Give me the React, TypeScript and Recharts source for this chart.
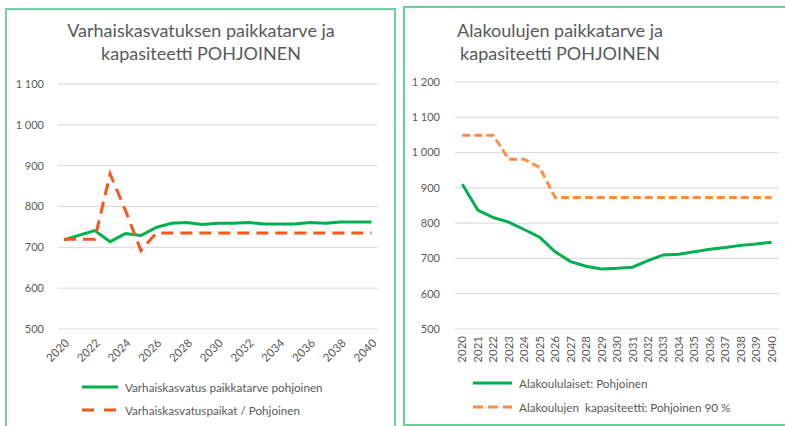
import React from "react";
import { LineChart, Line, XAxis, YAxis, CartesianGrid } from "recharts";

const years = ["2020","2021","2022","2023","2024","2025","2026","2027","2028","2029","2030","2031","2032","2033","2034","2035","2036","2037","2038","2039","2040"];

const leftDemand = [718, 730, 741, 714, 734, 729, 749, 759, 761, 756, 759, 759, 761, 757, 757, 757, 761, 759, 762, 762, 762];
const leftCapacity = [720, 720, 720, 880, 790, 692, 735, 735, 735, 735, 735, 735, 735, 735, 735, 735, 735, 735, 735, 735, 735];

const rightPupils = [910, 837, 816, 803, 782, 760, 719, 691, 678, 670, 672, 675, 694, 710, 712, 719, 726, 731, 737, 741, 746];
const rightCapacity = [1049, 1049, 1049, 981, 981, 958, 873, 873, 873, 873, 873, 873, 873, 873, 873, 873, 873, 873, 873, 873, 873];

const leftTicks = [500, 600, 700, 800, 900, 1000, 1100];
const rightTicks = [500, 600, 700, 800, 900, 1000, 1100, 1200];

const leftTitle = ["Varhaiskasvatuksen paikkatarve ja", "kapasiteetti POHJOINEN"];
const rightTitle = ["Alakoulujen paikkatarve ja", "kapasiteetti POHJOINEN"];
const leftLegend = ["Varhaiskasvatus paikkatarve pohjoinen", "Varhaiskasvatuspaikat / Pohjoinen"];
const rightLegend = ["Alakoululaiset: Pohjoinen", "Alakoulujen  kapasiteetti: Pohjoinen 90 %"];

const leftData = years.map((y, i) => ({ year: y, demand: leftDemand[i], capacity: leftCapacity[i] }));
const rightData = years.map((y, i) => ({ year: y, pupils: rightPupils[i], capacity: rightCapacity[i] }));

const FONT = "Lato, 'Open Sans', sans-serif";
const TEXT = "#595959";
const GREEN = "#00B050";
const ORANGE_L = "#F4581A";
const ORANGE_R = "#FF8C42";
const GRID = "#D9D9D9";

const fmt = (v: number) =>
  v >= 1000 ? `${Math.floor(v / 1000)} ${String(v % 1000).padStart(3, "0")}` : String(v);

const YTick = (props: any) => {
  const { x, y, payload } = props;
  return (
    <text x={x} y={y} dy="0.35em" textAnchor="end" fontSize={11} fill={TEXT} fontFamily={FONT}>
      {fmt(payload.value)}
    </text>
  );
};

const LeftXTick = (props: any) => {
  const { x, payload } = props;
  return (
    <g transform={`translate(${x + 3},${341})`}>
      <text x={0} y={0} dy="0.35em" textAnchor="end" transform="rotate(-45)" fontSize={11.5} fill={TEXT} fontFamily={FONT}>
        {payload.value}
      </text>
    </g>
  );
};

const RightXTick = (props: any) => {
  const { x, payload } = props;
  return (
    <g transform={`translate(${x},${336})`}>
      <text x={0} y={0} dy="0.35em" textAnchor="end" transform="rotate(-90)" fontSize={11.5} fill={TEXT} fontFamily={FONT}>
        {payload.value}
      </text>
    </g>
  );
};

const Title = ({ lines, cx }: { lines: string[]; cx: number }) => (
  <>
    {lines.map((t, i) => (
      <div
        key={i}
        style={{
          position: "absolute",
          left: cx - 200,
          width: 400,
          top: 30 + i * 22.5 - 11,
          height: 22,
          lineHeight: "22px",
          textAlign: "center",
          fontFamily: FONT,
          fontSize: 18,
          color: TEXT,
          whiteSpace: "pre",
        }}
      >
        {t}
      </div>
    ))}
  </>
);

const LegendRow = ({ x, y, sampleW, color, dash, label }: { x: number; y: number; sampleW: number; color: string; dash?: string; label: string }) => (
  <div style={{ position: "absolute", left: x, top: y - 9, height: 18, display: "flex", alignItems: "center" }}>
    <svg width={sampleW} height={18} style={{ display: "block" }}>
      <line x1={0} y1={9} x2={sampleW} y2={9} stroke={color} strokeWidth={3} strokeDasharray={dash} />
    </svg>
    <span style={{ marginLeft: 7, fontFamily: FONT, fontSize: 11.7, color: TEXT, whiteSpace: "pre", lineHeight: "18px" }}>{label}</span>
  </div>
);

export default function App() {
  return (
    <div style={{ position: "absolute", left: 0, top: 0, width: 785, height: 426, overflow: "hidden", background: "#fff" }}>
      <div style={{ position: "absolute", left: 5, top: 8, width: 387, height: 430, border: "2px solid #72D39B" }} />
      <div style={{ position: "absolute", left: 403, top: 6, width: 420, height: 416, border: "2px solid #66CF92" }} />

      <Title lines={leftTitle} cx={201} />
      <Title lines={rightTitle} cx={560} />

      <div style={{ position: "absolute", left: 0, top: 0 }}>
        <LineChart width={395} height={426} data={leftData} margin={{ top: 84, right: 17, left: 0, bottom: 57 }}>
          <CartesianGrid horizontal vertical={false} stroke={GRID} />
          <XAxis
            dataKey="year"
            interval={1}
            axisLine={false}
            tickLine={false}
            tickSize={0}
            tickMargin={0}
            height={40}
            padding={{ left: 6, right: 6.5 }}
            tick={<LeftXTick />}
          />
          <YAxis
            domain={[500, 1100]}
            ticks={leftTicks}
            axisLine={false}
            tickLine={false}
            tickSize={0}
            tickMargin={14}
            width={58}
            tick={<YTick />}
          />
          <Line dataKey="demand" stroke={GREEN} strokeWidth={3} dot={false} isAnimationActive={false} />
          <Line dataKey="capacity" stroke={ORANGE_L} strokeWidth={3} strokeDasharray="12 7" dot={false} isAnimationActive={false} />
        </LineChart>
      </div>

      <div style={{ position: "absolute", left: 400, top: 0 }}>
        <LineChart width={385} height={426} data={rightData} margin={{ top: 82, right: 6, left: 0, bottom: 57 }}>
          <CartesianGrid horizontal vertical={false} stroke={GRID} />
          <XAxis
            dataKey="year"
            interval={0}
            axisLine={false}
            tickLine={false}
            tickSize={0}
            tickMargin={0}
            height={40}
            padding={{ left: 7.3, right: 7.3 }}
            tick={<RightXTick />}
          />
          <YAxis
            domain={[500, 1200]}
            ticks={rightTicks}
            axisLine={false}
            tickLine={false}
            tickSize={0}
            tickMargin={15}
            width={55}
            tick={<YTick />}
          />
          <Line dataKey="pupils" stroke={GREEN} strokeWidth={3} dot={false} isAnimationActive={false} />
          <Line dataKey="capacity" stroke={ORANGE_R} strokeWidth={3} strokeDasharray="8 4" dot={false} isAnimationActive={false} />
        </LineChart>
      </div>

      <LegendRow x={82} y={387} sampleW={36} color={GREEN} label={leftLegend[0]} />
      <LegendRow x={82} y={410} sampleW={36} color={ORANGE_L} dash="12 10" label={leftLegend[1]} />
      <LegendRow x={473} y={383} sampleW={39} color={GREEN} label={rightLegend[0]} />
      <LegendRow x={473} y={407} sampleW={39} color={ORANGE_R} dash="10 5" label={rightLegend[1]} />
    </div>
  );
}
